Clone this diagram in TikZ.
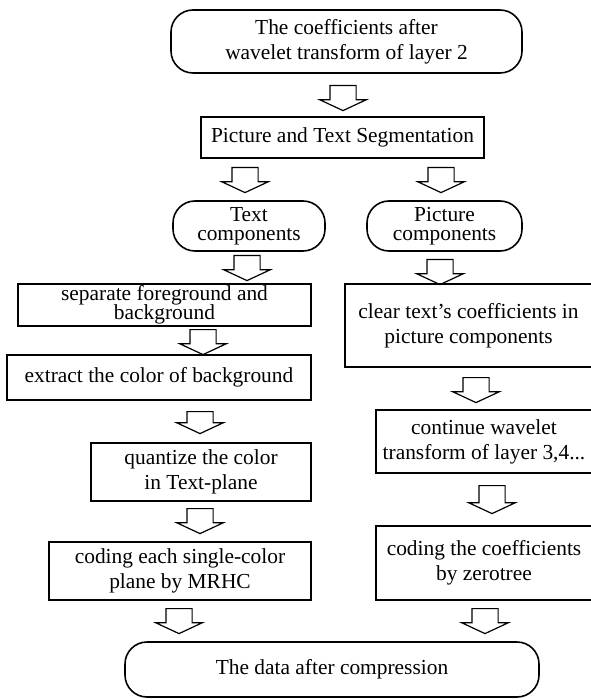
\documentclass[tikz,border=0pt]{standalone}
\usepackage{fontspec}
\setmainfont{Liberation Serif}
\usetikzlibrary{shapes.arrows}

\begin{document}
\begin{tikzpicture}[
  x=0.5pt,y=-0.5pt,
  every node/.style={font=\fontsize{10.7}{12.5}\selectfont},
  terminal/.style={draw,line width=0.8pt,rounded corners=11pt,align=center,inner sep=0pt},
  process/.style={draw,line width=0.8pt,align=center,inner sep=0pt},
  blockarrow/.style={draw,line width=0.6pt,single arrow,rotate=-90,anchor=tail,
    inner xsep=0pt,inner ysep=6.25pt,minimum height=12.5pt,
    single arrow head extend=5pt,single arrow tip angle=130}
]
  \useasboundingbox (0,0) rectangle (590,699);

  \node[terminal,minimum width=175.5pt,minimum height=31.5pt] (coef) at (346.5,41.5) {The coefficients after\\wavelet transform of layer 2};
  \node[process,minimum width=141.5pt,minimum height=20.5pt] (seg) at (342.5,137.5) {Picture and Text Segmentation};
  \node[terminal,minimum width=76pt,minimum height=25pt] (textc) at (249,226) {Text\\[-3pt]components};
  \node[terminal,minimum width=77.5pt,minimum height=25pt] (picc) at (444.5,226) {Picture\\[-3pt]components};

  % text branch
  \node[process,minimum width=146.5pt,minimum height=21pt] (sep) at (164.5,305) {separate foreground and\\[-3pt]background};
  \node[process,minimum width=152pt,minimum height=22.5pt] (ext) at (159,377.5) {extract the color of background};
  \node[process,minimum width=110pt,minimum height=29pt] (quant) at (201,472) {quantize the color\\in Text-plane};
  \node[process,minimum width=131pt,minimum height=29pt] (mrhc) at (180,571) {coding each single-color\\plane by MRHC};

  % picture branch
  \node[process,minimum width=123.5pt,minimum height=41.5pt] (clear) at (468.5,325.5) {clear text's coefficients in\\picture components};
  \node[process,minimum width=108pt,minimum height=31.5pt] (cont) at (484,441.5) {continue wavelet\\transform of layer 3,4...};
  \node[process,minimum width=108pt,minimum height=37pt] (zero) at (484,563) {coding the coefficients\\by zerotree};

  \node[terminal,minimum width=207pt,minimum height=27.5pt] (data) at (332,669.5) {The data after compression};

  % block arrows
  \node[blockarrow] (a1) at (343,85) {};
  \node[blockarrow] (a2) at (245,167) {};
  \node[blockarrow] (a3) at (441,167) {};
  \node[blockarrow] (a4) at (247,255) {};
  \node[blockarrow] (a5) at (440,259) {};
  \node[blockarrow] (a6) at (203,329) {};
  \node[blockarrow,minimum height=11pt] (a7) at (200,411) {};
  \node[blockarrow] (a8) at (200,508) {};
  \node[blockarrow] (a9) at (476,377) {};
  \node[blockarrow,minimum height=14pt] (a10) at (492,485) {};
  \node[blockarrow] (a11) at (179,608) {};
  \node[blockarrow] (a12) at (485,608) {};
\end{tikzpicture}
\end{document}
